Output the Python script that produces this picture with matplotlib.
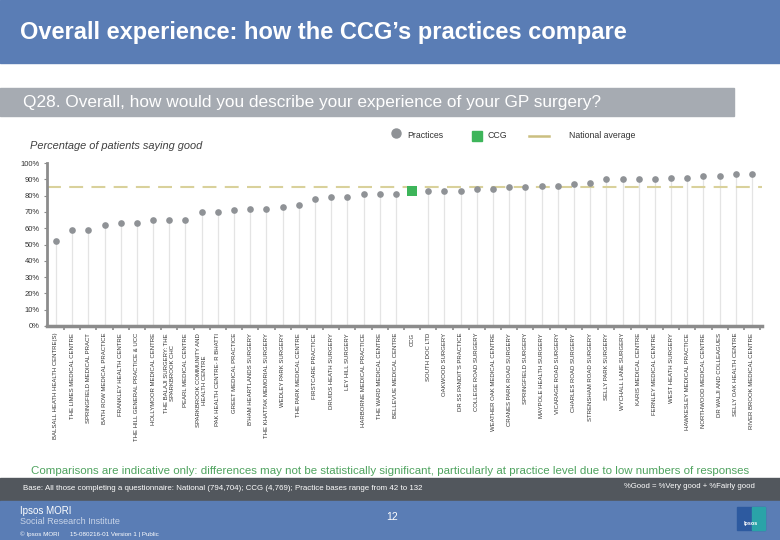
import matplotlib
matplotlib.use("Agg")
import matplotlib.pyplot as plt
from matplotlib.patches import Rectangle
from matplotlib.lines import Line2D
import numpy as np

plt.rcParams['font.family'] = ['Liberation Sans', 'DejaVu Sans']
plt.rcParams['lines.scale_dashes'] = False

# ---------------- data ----------------
labels = [
    "BALSALL HEATH HEALTH CENTRE(S)", "THE LIMES MEDICAL CENTRE", "SPRINGFIELD MEDICAL PRACT",
    "BATH ROW MEDICAL PRACTICE", "FRANKLEY HEALTH CENTRE", "THE HILL GENERAL PRACTICE & UCC",
    "HOLLYMOOR MEDICAL CENTRE", "THE BALAJI SURGERY: THE\nSPARKBROOK CHC", "PEARL MEDICAL CENTRE",
    "SPARKBROOK COMMUNITY AND\nHEALTH CENTRE", "PAK HEALTH CENTRE- R BHATTI", "GREET MEDICAL PRACTICE",
    "B'HAM HEARTLANDS SURGERY", "THE KHATTAK MEMORIAL SURGERY", "WEDLEY PARK SURGERY",
    "THE PARK MEDICAL CENTRE", "FIRSTCARE PRACTICE", "DRUIDS HEATH SURGERY",
    "LEY HILL SURGERY", "HARBORNE MEDICAL PRACTICE", "THE WARD MEDICAL CENTRE",
    "BELLEVUE MEDICAL CENTRE", "CCG", "SOUTH DOC LTD", "OAKWOOD SURGERY",
    "DR SS PANDIT'S PRACTICE", "COLLEGE ROAD SURGERY", "WEATHER OAK MEDICAL CENTRE",
    "CRANES PARK ROAD SURGERY", "SPRINGFIELD SURGERY", "MAYPOLE HEALTH SURGERY",
    "VICARAGE ROAD SURGERY", "CHARLES ROAD SURGERY", "STRENSHAM ROAD SURGERY",
    "SELLY PARK SURGERY", "WYCHALL LANE SURGERY", "KARIS MEDICAL CENTRE",
    "FERNLEY MEDICAL CENTRE", "WEST HEATH SURGERY", "HAWKESLEY MEDICAL PRACTICE",
    "NORTHWOOD MEDICAL CENTRE", "DR WALJI AND COLLEAGUES", "SELLY OAK HEALTH CENTRE",
    "RIVER BROOK MEDICAL CENTRE",
]
values = [52, 59, 59, 62, 63, 63, 65, 65, 65, 70, 70, 71, 72, 72, 73, 74, 78, 79, 79, 81, 81, 81,
          83, 83, 83, 83, 84, 84, 85, 85, 86, 86, 87, 88, 90, 90, 90, 90, 91, 91, 92, 92, 93, 93]
national_average = 85
yticks = [0, 10, 20, 30, 40, 50, 60, 70, 80, 90, 100]
ytick_labels = ["0%", "10%", "20%", "30%", "40%", "50%", "60%", "70%", "80%", "90%", "100%"]

# ---------------- colours ----------------
BLUE = '#5a7db5'
GREYBAR = '#a6abb2'
DARK = '#52575d'
DOT = '#8f9296'
GREEN = '#3db55a'
NAT = '#d9d19b'
AXIS = '#8c8c8c'

W, H = 780, 540
fig = plt.figure(figsize=(7.8, 5.4), dpi=100)
fig.patch.set_facecolor('white')

def fx(px):
    return px / W

def fy(py):
    return 1 - py / H

def rect(x0, y0, x1, y1, color):
    fig.patches.append(Rectangle((fx(x0), fy(y1)), fx(x1 - x0), (y1 - y0) / H,
                                 transform=fig.transFigure, color=color, zorder=0))

# header
rect(0, 0, 780, 63, BLUE)
fig.text(fx(20), fy(32), "Overall experience: how the CCG\u2019s practices compare",
         color='white', fontsize=17, weight='bold', va='center', ha='left')
# question bar
rect(0, 88, 734, 116, GREYBAR)
fig.text(fx(23), fy(102), "Q28. Overall, how would you describe your experience of your GP surgery?",
         color='white', fontsize=12.4, va='center', ha='left')
# subtitle
fig.text(fx(30), fy(146), "Percentage of patients saying good", fontsize=7.9, style='italic',
         color='#404040', va='center', ha='left')

# legend (drawn in figure coords)
fig.lines.append(Line2D([fx(396)], [fy(133)], marker='o', markersize=6.5, color=DOT,
                        transform=fig.transFigure, linestyle='none'))
fig.text(fx(407), fy(136), "Practices", fontsize=6.3, color='#333333', va='center', ha='left')
fig.lines.append(Line2D([fx(477)], [fy(136)], marker='s', markersize=6.5, color=GREEN,
                        transform=fig.transFigure, linestyle='none'))
fig.text(fx(487), fy(136), "CCG", fontsize=6.3, color='#333333', va='center', ha='left')
fig.lines.append(Line2D([fx(529), fx(549)], [fy(136), fy(136)], color='#cbbf80', lw=1.8,
                        transform=fig.transFigure))
fig.text(fx(569), fy(136), "National average", fontsize=6.3, color='#333333', va='center', ha='left')

# ---------------- chart ----------------
ax = fig.add_axes([fx(47), fy(326), fx(762) - fx(47), (326 - 163) / H])
ax.set_facecolor('none')
x = np.arange(len(labels))
ccg_idx = labels.index('CCG')
prac_idx = np.array([i for i in range(len(labels)) if i != ccg_idx])
vals = np.array(values, dtype=float)

ax.vlines(prac_idx, 0, vals[prac_idx], color='#e4e4e4', lw=0.9, zorder=1)
ax.axhline(national_average, color=NAT, lw=1.5, dashes=(10, 6), zorder=2)
ax.plot(prac_idx, vals[prac_idx], 'o', color=DOT, markersize=4.8, zorder=3, markeredgewidth=0)
ax.plot([ccg_idx], [vals[ccg_idx]], 's', color=GREEN, markersize=7.2, zorder=4, markeredgewidth=0)

spacing = (752 - 56) / (len(labels) - 1)
ax.set_xlim(-(56 - 47) / spacing, len(labels) - 1 + (762 - 752) / spacing)
ax.set_ylim(0, 100)
ax.set_yticks(yticks)
ax.set_yticklabels(ytick_labels, fontsize=5.5, color='#333333')
ax.set_xticks(x)
ax.set_xticklabels(labels, rotation=90, fontsize=4.3, color='#333333', ha='center', va='top',
                   linespacing=1.15)
ax.set_xticks(np.arange(len(labels)) + 0.5, minor=True)
ax.tick_params(axis='x', which='major', length=0, pad=5)
ax.tick_params(axis='x', which='minor', length=3, width=1.2, color=AXIS)
ax.tick_params(axis='y', length=2, width=0.8, color=AXIS, pad=3)
for s in ['top', 'right']:
    ax.spines[s].set_visible(False)
ax.spines['left'].set_color(AXIS)
ax.spines['left'].set_linewidth(2)
ax.spines['bottom'].set_color(AXIS)
ax.spines['bottom'].set_linewidth(2.5)

# ---------------- footer ----------------
fig.text(fx(390), fy(471), "Comparisons are indicative only: differences may not be statistically significant, "
         "particularly at practice level due to low numbers of responses",
         fontsize=8.25, color='#4fa35f', va='center', ha='center')
rect(0, 478, 780, 501, DARK)
fig.text(fx(23), fy(488), "Base: All those completing a questionnaire: National (794,704); CCG (4,769); "
         "Practice bases range from 42 to 132", fontsize=5.7, color='white', va='center', ha='left')
fig.text(fx(755), fy(487), "%Good = %Very good + %Fairly good", fontsize=5.6, color='white',
         va='center', ha='right')
rect(0, 501, 780, 540, BLUE)
fig.text(fx(20), fy(511), "Ipsos MORI", fontsize=7, color='white', va='center', ha='left')
fig.text(fx(20), fy(522), "Social Research Institute", fontsize=6.5, color='#c8d4e8', va='center', ha='left')
fig.text(fx(20), fy(534), "\u00a9 Ipsos MORI      15-080216-01 Version 1 | Public", fontsize=4.5,
         color='white', va='center', ha='left')
fig.text(fx(392), fy(517), "12", fontsize=7.5, color='white', va='center', ha='center')
# logo
rect(737, 507, 765, 530, '#2d5aa0')
rect(752, 507, 765, 530, '#2aa3a8')
fig.text(fx(751), fy(524), "Ipsos", fontsize=4, color='white', va='center', ha='center', weight='bold')

fig.savefig('out.png', dpi=100)
